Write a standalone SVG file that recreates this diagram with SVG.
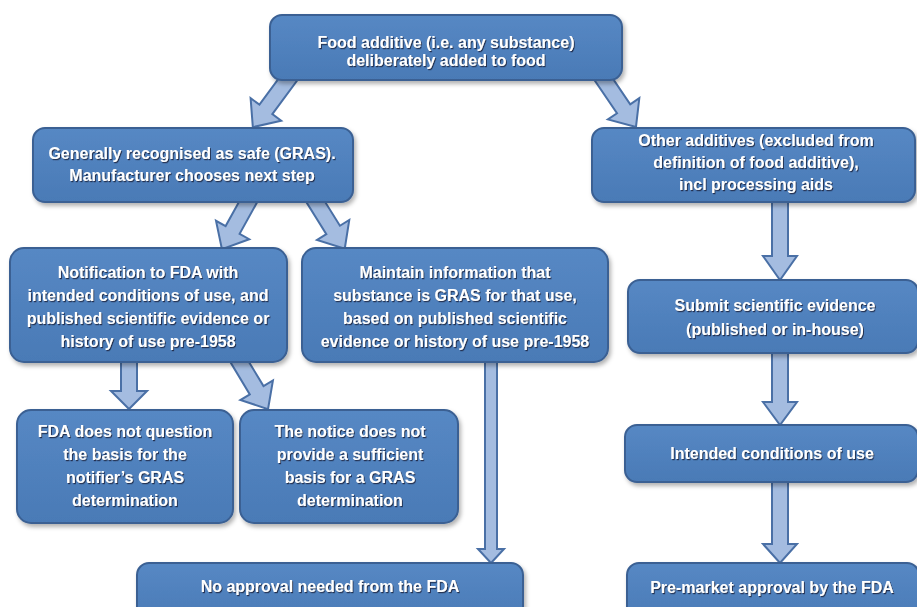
<svg xmlns="http://www.w3.org/2000/svg" width="917" height="607" viewBox="0 0 917 607">
<defs>
<linearGradient id="boxg" x1="0" y1="0" x2="0" y2="1">
<stop offset="0" stop-color="#5688C4"/>
<stop offset="1" stop-color="#4A7AB6"/>
</linearGradient>
<filter id="bshadow" x="-10%" y="-10%" width="120%" height="130%">
<feDropShadow dx="2" dy="3" stdDeviation="2" flood-color="#000" flood-opacity="0.3"/>
</filter>
<filter id="tshadow" x="-5%" y="-20%" width="110%" height="150%">
<feDropShadow dx="1" dy="1.2" stdDeviation="0.6" flood-color="#1a2c45" flood-opacity="0.9"/>
</filter>
<style>
.box{fill:url(#boxg);stroke:#3A6093;stroke-width:2;filter:url(#bshadow)}
.lbl{font-family:"Liberation Sans",Arial,sans-serif;font-weight:bold;font-size:16px;fill:#fff;text-anchor:middle;filter:url(#tshadow)}
.arr{fill:#A4BCE0;stroke:#4A70A6;stroke-width:2;stroke-linejoin:miter}
</style>
</defs>
<rect width="917" height="607" fill="#fff"/>

<g id="connectors">
<!-- top -> GRAS -->
<path class="arr" transform="translate(292,74) rotate(36.4)" d="M-8,0 L8,0 L8,44 L19,44 L0,66 L-19,44 L-8,44 Z"/>
<!-- top -> Other -->
<path class="arr" transform="translate(600,74) rotate(-34.2)" d="M-8,0 L8,0 L8,42 L19,42 L0,64 L-19,42 L-8,42 Z"/>
<!-- GRAS -> Notification -->
<path class="arr" transform="translate(252,195) rotate(29)" d="M-8,0 L8,0 L8,40 L19,40 L0,62 L-19,40 L-8,40 Z"/>
<!-- GRAS -> Maintain -->
<path class="arr" transform="translate(312,196) rotate(-31.9)" d="M-8,0 L8,0 L8,40 L19,40 L0,62 L-19,40 L-8,40 Z"/>
<!-- Notification -> Notice -->
<path class="arr" transform="translate(236,356) rotate(-31.1)" d="M-8,0 L8,0 L8,40 L19,40 L0,62 L-19,40 L-8,40 Z"/>
<!-- Notification -> FDA does not question -->
<path class="arr" d="M121,358 L137,358 L137,391 L147,391 L129,409 L111,391 L121,391 Z"/>
<!-- Maintain -> No approval -->
<path class="arr" d="M485,358 L497,358 L497,549 L504,549 L491,563 L478,549 L485,549 Z"/>
<!-- Other -> Submit -->
<path class="arr" d="M772,198 L788,198 L788,256 L797,256 L780,280 L763,256 L772,256 Z"/>
<!-- Submit -> Intended -->
<path class="arr" d="M772,350 L788,350 L788,402 L797,402 L780,425 L763,402 L772,402 Z"/>
<!-- Intended -> Pre-market -->
<path class="arr" d="M772,478 L788,478 L788,544 L797,544 L780,563 L763,544 L772,544 Z"/>
</g>

<g id="node-food-additive">
<rect class="box" x="270" y="15" width="352" height="65" rx="12"/>
<text class="lbl" x="446" y="48">Food additive (i.e. any substance)</text>
<text class="lbl" x="446" y="66">deliberately added to food</text>
</g>

<g id="node-gras">
<rect class="box" x="33" y="128" width="320" height="74" rx="12"/>
<text class="lbl" x="192" y="159">Generally recognised as safe (GRAS).</text>
<text class="lbl" x="192" y="181">Manufacturer chooses next step</text>
</g>

<g id="node-other">
<rect class="box" x="592" y="128" width="323" height="74" rx="12"/>
<text class="lbl" x="756" y="146">Other additives (excluded from</text>
<text class="lbl" x="756" y="168">definition of food additive),</text>
<text class="lbl" x="756" y="190">incl processing aids</text>
</g>

<g id="node-notification">
<rect class="box" x="10" y="248" width="277" height="114" rx="14"/>
<text class="lbl" x="148" y="278">Notification to FDA with</text>
<text class="lbl" x="148" y="301">intended conditions of use, and</text>
<text class="lbl" x="148" y="324">published scientific evidence or</text>
<text class="lbl" x="148" y="347">history of use pre-1958</text>
</g>

<g id="node-maintain">
<rect class="box" x="302" y="248" width="306" height="114" rx="14"/>
<text class="lbl" x="455" y="278">Maintain information that</text>
<text class="lbl" x="455" y="301">substance is GRAS for that use,</text>
<text class="lbl" x="455" y="324">based on published scientific</text>
<text class="lbl" x="455" y="347">evidence or history of use pre-1958</text>
</g>

<g id="node-submit">
<rect class="box" x="628" y="280" width="290" height="73" rx="12"/>
<text class="lbl" x="775" y="311">Submit scientific evidence</text>
<text class="lbl" x="775" y="335">(published or in-house)</text>
</g>

<g id="node-fda-not-question">
<rect class="box" x="17" y="410" width="216" height="113" rx="14"/>
<text class="lbl" x="125" y="437">FDA does not question</text>
<text class="lbl" x="125" y="460">the basis for the</text>
<text class="lbl" x="125" y="483">notifier’s GRAS</text>
<text class="lbl" x="125" y="506">determination</text>
</g>

<g id="node-notice-insufficient">
<rect class="box" x="240" y="410" width="218" height="113" rx="14"/>
<text class="lbl" x="350" y="437">The notice does not</text>
<text class="lbl" x="350" y="460">provide a sufficient</text>
<text class="lbl" x="350" y="483">basis for a GRAS</text>
<text class="lbl" x="350" y="506">determination</text>
</g>

<g id="node-intended">
<rect class="box" x="625" y="425" width="293" height="57" rx="12"/>
<text class="lbl" x="772" y="459">Intended conditions of use</text>
</g>

<g id="node-no-approval">
<rect class="box" x="137" y="563" width="386" height="60" rx="12"/>
<text class="lbl" x="330" y="592">No approval needed from the FDA</text>
</g>

<g id="node-premarket">
<rect class="box" x="627" y="563" width="292" height="60" rx="12"/>
<text class="lbl" x="772" y="593">Pre-market approval by the FDA</text>
</g>
</svg>
